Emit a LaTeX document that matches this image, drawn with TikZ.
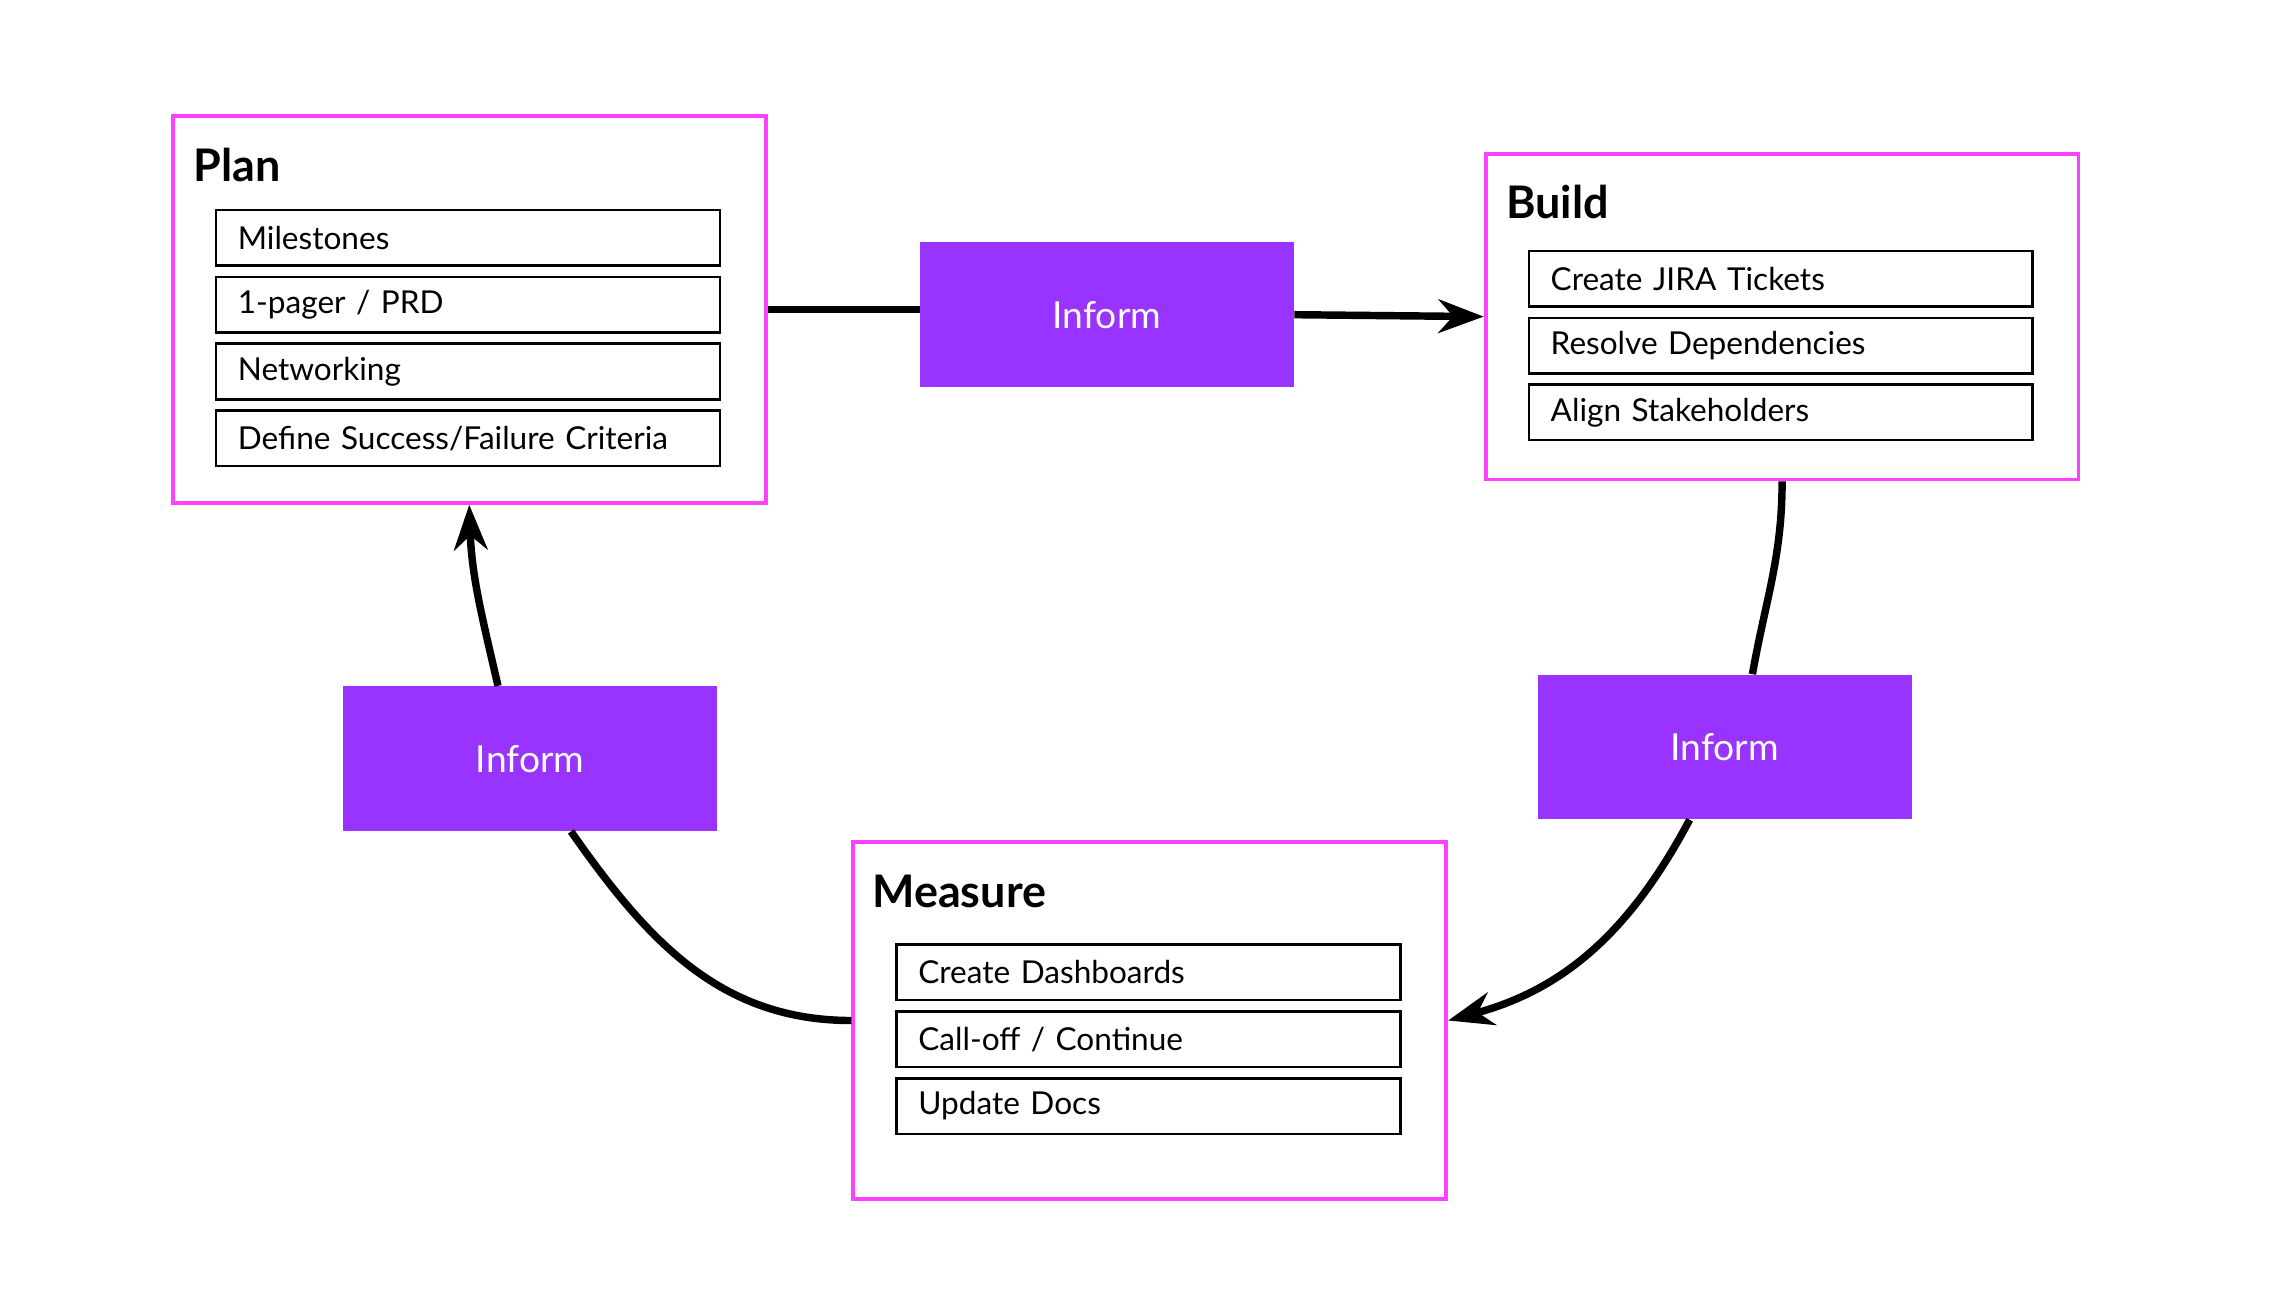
\documentclass[tikz,border=0pt]{standalone}
\usepackage{fontspec}
\setmainfont{Lato}
\usetikzlibrary{positioning,arrows.meta}
\definecolor{stagepink}{RGB}{255,64,255}
\definecolor{informpurple}{RGB}{153,51,255}

\tikzset{
  stage/.style={draw=stagepink, line width=1.5pt, fill=white, anchor=north west, minimum width=8.12cm},
  title/.style={anchor=base west, inner sep=0pt, font=\fontsize{17.5}{20}\selectfont\bfseries},
  task/.style={draw=black, line width=1pt, anchor=north west, text width=6.3cm, inner xsep=0.3cm,
    minimum height=0.76cm, align=left, font=\fontsize{12.3}{14}\selectfont},
  inform/.style={fill=informpurple, text=white, minimum width=5.12cm, minimum height=1.98cm,
    font=\fontsize{14.5}{17}\selectfont},
  link/.style={line width=2.9pt},
  flow/.style={-{Stealth[length=0.62cm, width=0.46cm, inset=0.2cm]}}
}

\begin{document}
\begin{tikzpicture}
  \useasboundingbox (0,0) rectangle (31.39,-17.67);

  % Plan
  \node[stage, minimum height=5.3cm] (plan) at (2.34,-1.56) {};
  \node[title] at (2.64,-2.48) {Plan};
  \node[task] (p1) at (2.94,-2.86) {Milestones};
  \node[task, below=0.12cm of p1] (p2) {1-pager / PRD};
  \node[task, below=0.12cm of p2] (p3) {Networking};
  \node[task, below=0.12cm of p3] (p4) {Define Success/Failure Criteria};

  % Build
  \node[stage, minimum height=4.46cm] (build) at (20.32,-2.08) {};
  \node[title] at (20.62,-2.99) {Build};
  \node[task] (b1) at (20.92,-3.42) {Create JIRA Tickets};
  \node[task, below=0.12cm of b1] (b2) {Resolve Dependencies};
  \node[task, below=0.12cm of b2] (b3) {Align Stakeholders};

  % Measure
  \node[stage, minimum height=4.9cm] (measure) at (11.66,-11.5) {};
  \node[title] at (11.94,-12.43) {Measure};
  \node[task] (m1) at (12.26,-12.92) {Create Dashboards};
  \node[task, below=0.12cm of m1] (m2) {Call-off / Continue};
  \node[task, below=0.12cm of m2] (m3) {Update Docs};

  % Inform boxes
  \node[inform] (inftop) at (15.16,-4.31) {Inform};
  \node[inform] (infright) at (23.62,-10.23) {Inform};
  \node[inform] (infleft) at (7.26,-10.39) {Inform};

  % Cycle
  \draw[link] (plan.east) -- (plan.east -| inftop.west);
  \draw[link, flow] (inftop.east) -- (build.west);
  \draw[link] (build.south) to[out=-90, in=80] ([xshift=0.38cm]infright.north);
  \draw[link, flow] ([xshift=-0.48cm]infright.south) to[out=-118, in=15] (measure.east);
  \draw[link] (measure.west) to[out=180, in=-55] ([xshift=0.56cm]infleft.south);
  \draw[link, flow] ([xshift=-0.44cm]infleft.north) to[out=103, in=-88] (plan.south);
\end{tikzpicture}
\end{document}
